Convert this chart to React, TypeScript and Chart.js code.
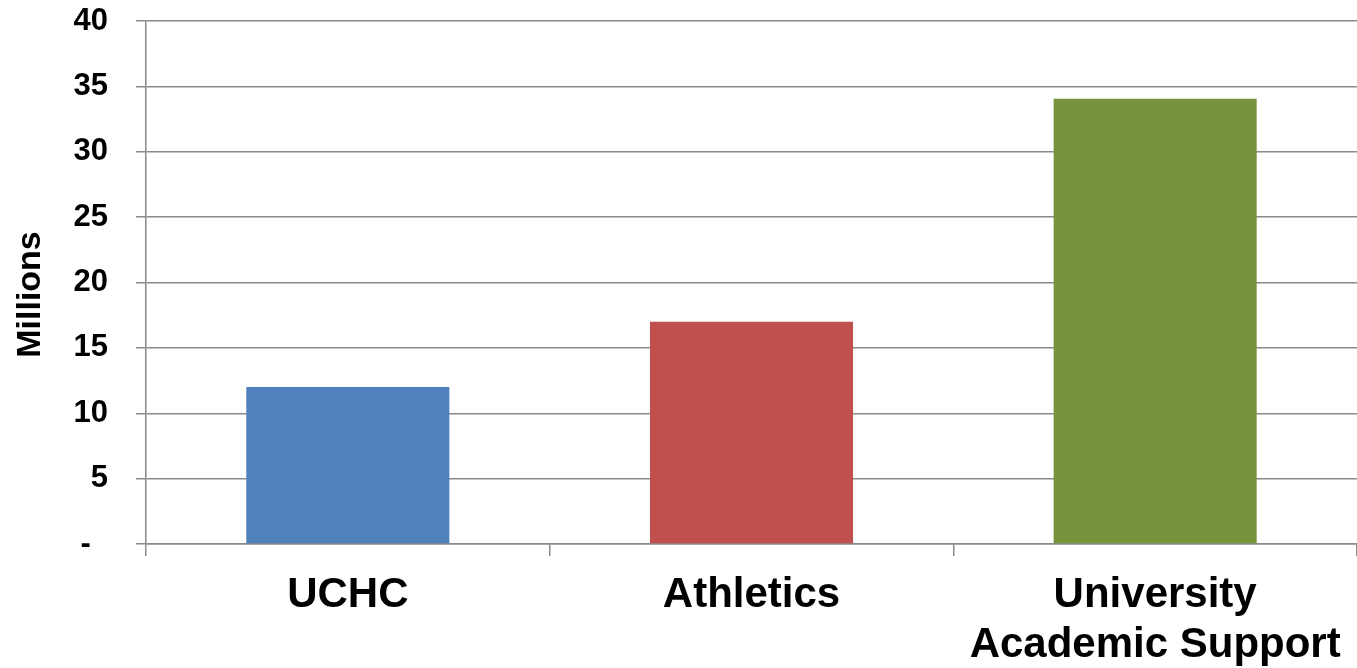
import React, { useEffect, useRef } from "react";
import { Chart, registerables } from "chart.js";

Chart.register(...registerables);

// Funding by area, in millions
const categories: (string | string[])[] = ["UCHC", "Athletics", ["University", "Academic Support"]];
const amounts: number[] = [12, 17, 34.05];
const barColors: string[] = ["#4F81BD", "#C0504D", "#77933C"];
const yTickValues: number[] = [0, 5, 10, 15, 20, 25, 30, 35, 40];
const yTitle = "Millions";

const FONT = "Arial, 'Liberation Sans', Helvetica, sans-serif";
const GRID = "#8a8a8a";

// Vertical axis caption, set a little below the middle of the plot height
const yTitlePlugin = {
  id: "yTitle",
  afterDraw(chart: any) {
    const { ctx, chartArea } = chart;
    ctx.save();
    ctx.translate(31, (chartArea.top + chartArea.bottom) / 2 + 12);
    ctx.rotate(-Math.PI / 2);
    ctx.font = `bold 34px ${FONT}`;
    ctx.fillStyle = "#000";
    ctx.textAlign = "center";
    ctx.textBaseline = "middle";
    ctx.fillText(yTitle, 0, 0);
    ctx.restore();
  },
};

export default function App() {
  const canvasRef = useRef<HTMLCanvasElement | null>(null);

  useEffect(() => {
    const canvas = canvasRef.current;
    if (!canvas) return;
    const chart = new Chart(canvas, {
      type: "bar",
      data: {
        labels: categories,
        datasets: [
          {
            data: amounts,
            backgroundColor: barColors,
            borderWidth: 0,
            categoryPercentage: 0.503,
            barPercentage: 1,
          },
        ],
      },
      plugins: [yTitlePlugin],
      options: {
        responsive: false,
        animation: false,
        layout: { padding: { top: 21, right: 0, left: 0, bottom: 0 } },
        plugins: {
          legend: { display: false },
          tooltip: { enabled: false },
        },
        scales: {
          x: {
            grid: {
              offset: true,
              drawOnChartArea: false,
              drawTicks: true,
              tickLength: 12,
              color: GRID,
              lineWidth: 1.5,
            },
            border: { display: true, color: GRID, width: 1.5 },
            ticks: {
              color: "#000",
              padding: 14,
              maxRotation: 0,
              autoSkip: false,
              font: { family: FONT, size: 42, weight: "bold", lineHeight: 1.2 },
            },
            afterFit: (scale: any) => {
              scale.height = 124;
              scale.paddingLeft = 0;
              scale.paddingRight = 0;
            },
          },
          y: {
            min: 0,
            max: 40,
            afterBuildTicks: (scale: any) => {
              scale.ticks = yTickValues.map((v) => ({ value: v }));
            },
            grid: {
              color: GRID,
              lineWidth: 1.5,
              drawTicks: true,
              tickLength: 10,
            },
            border: { display: true, color: GRID, width: 1.5 },
            ticks: {
              color: "#000",
              padding: 28,
              font: { family: FONT, size: 31, weight: "bold" },
              callback: (v: any) => (Number(v) === 0 ? "-  " : String(v)),
            },
            afterFit: (scale: any) => {
              scale.width = 146;
              scale.paddingTop = 0;
              scale.paddingBottom = 0;
            },
          },
        },
      },
    });
    return () => chart.destroy();
  }, []);

  return (
    <div style={{ position: "fixed", left: 0, top: 0, width: 1357, height: 668, background: "#fff" }}>
      <canvas ref={canvasRef} width={1357} height={668} style={{ display: "block" }} />
    </div>
  );
}
